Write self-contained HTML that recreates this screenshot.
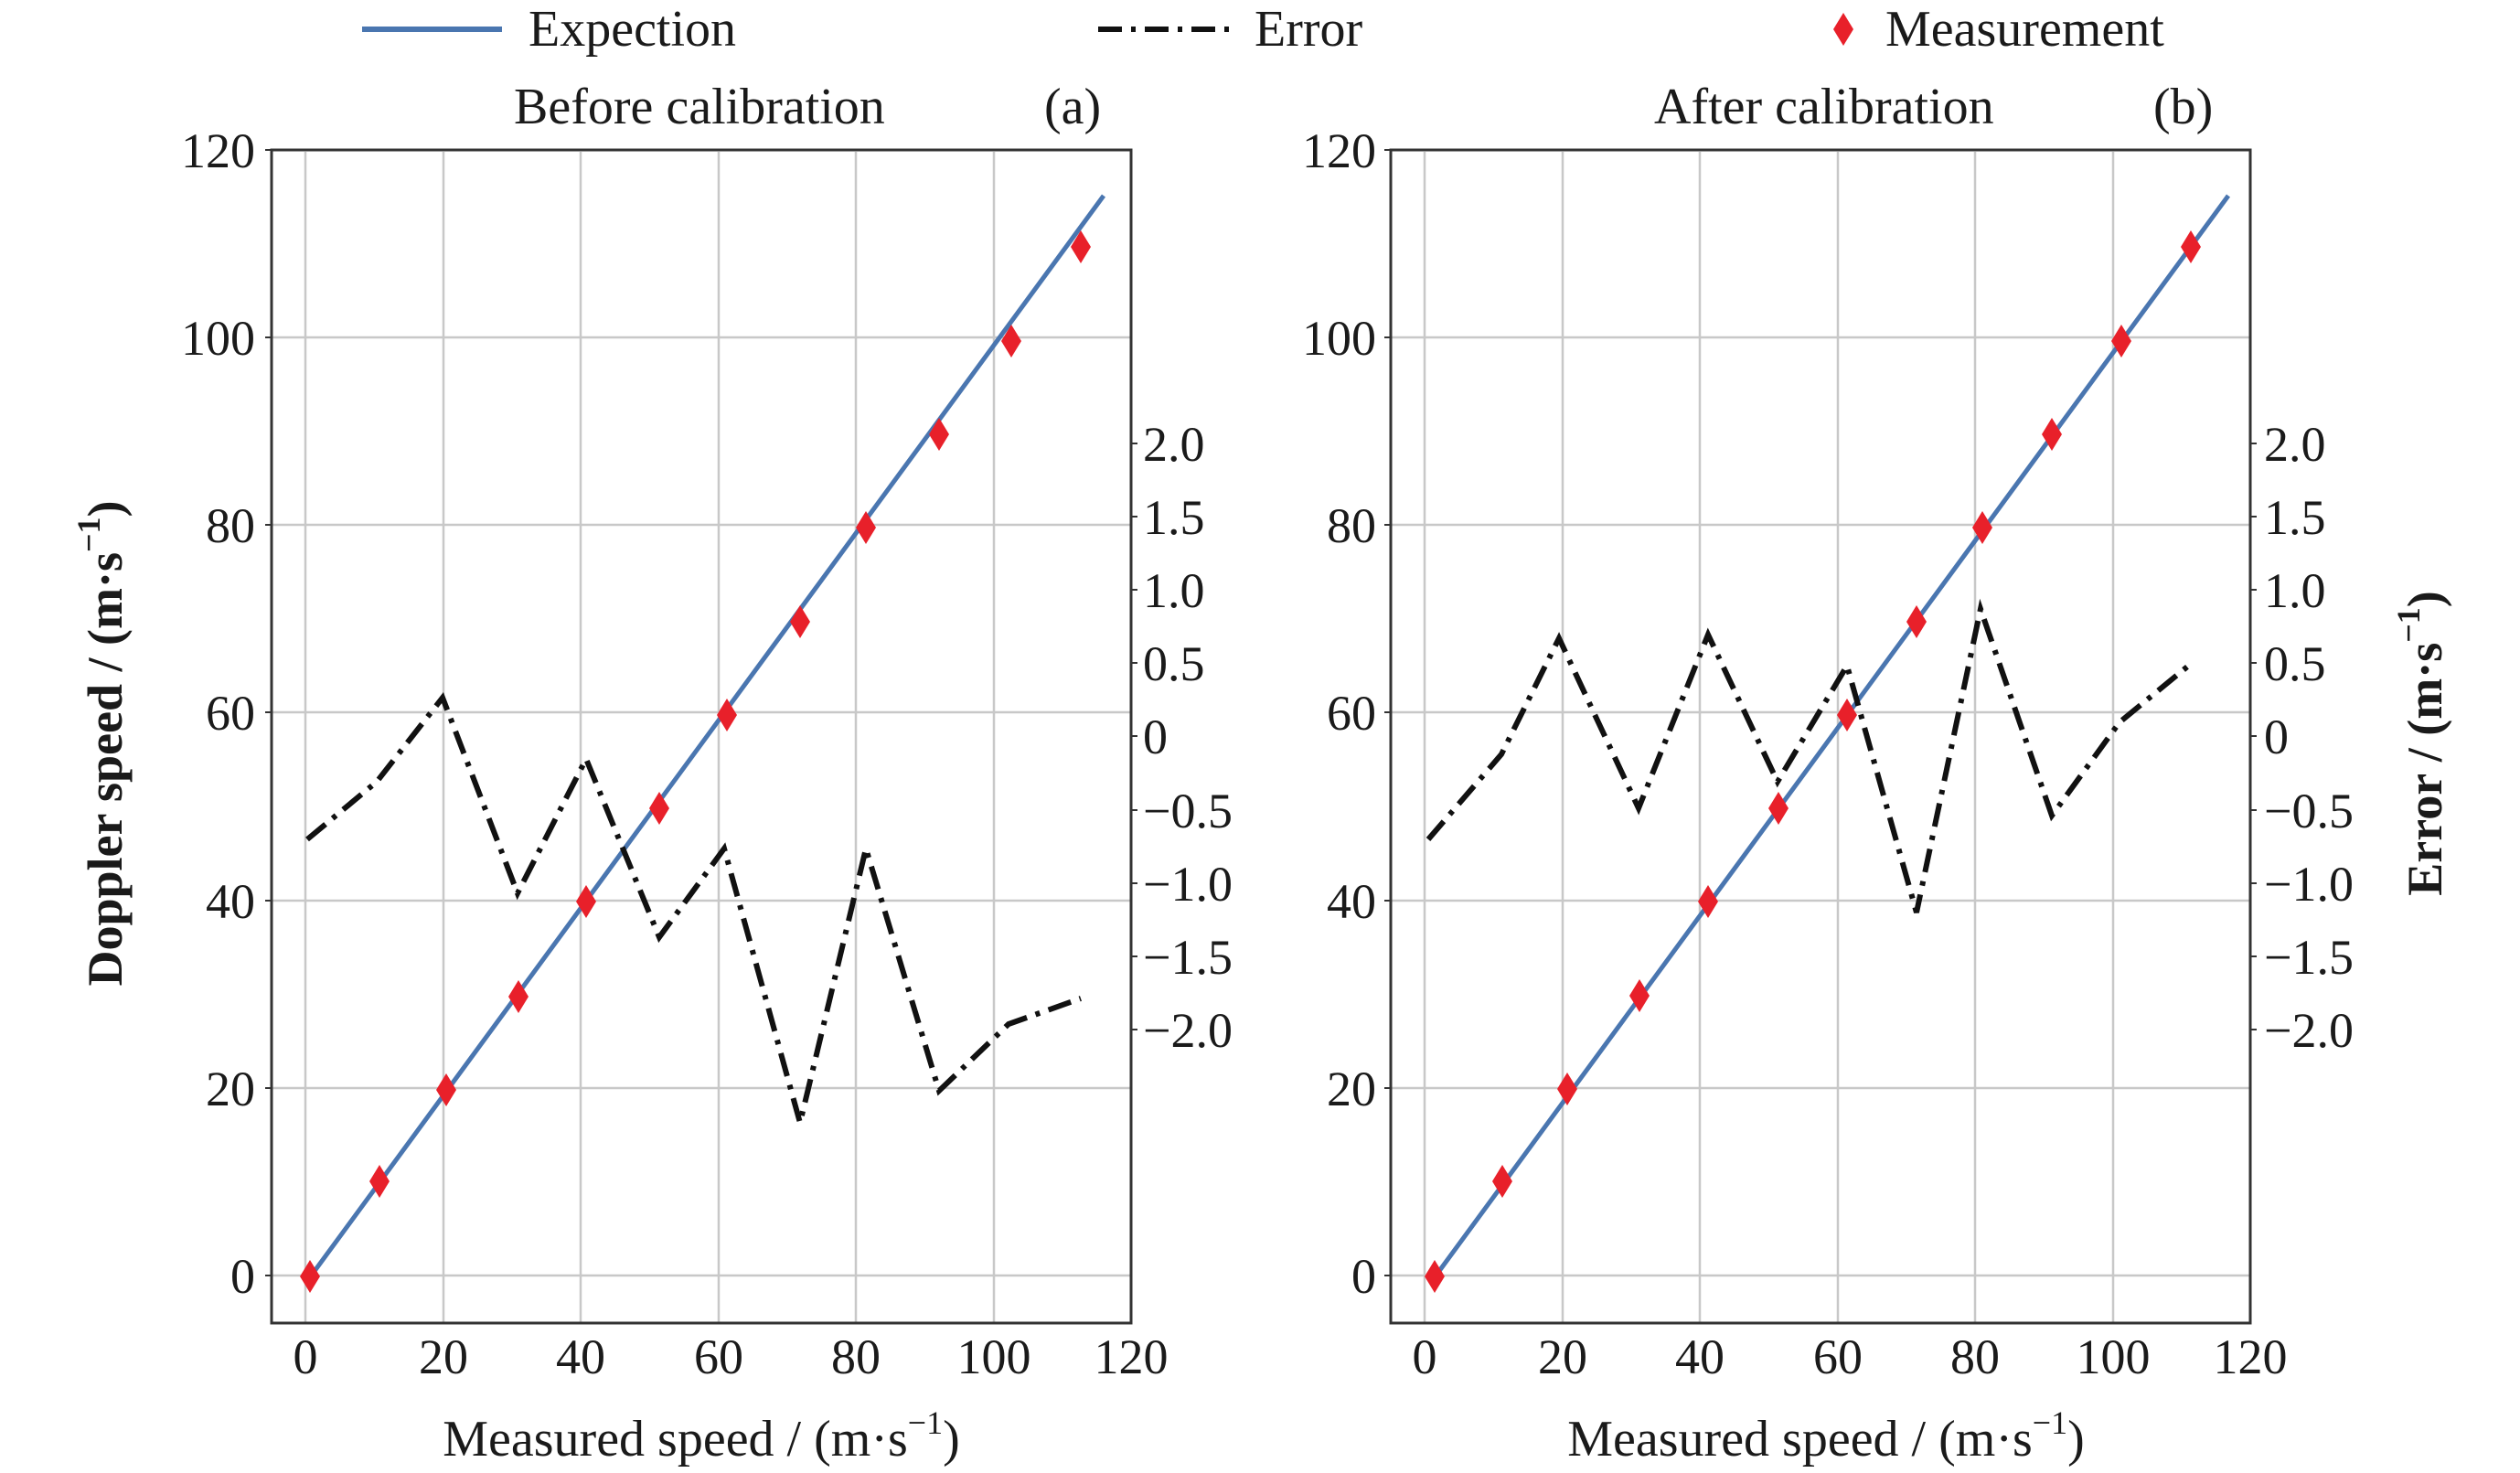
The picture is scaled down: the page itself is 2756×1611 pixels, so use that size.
<!DOCTYPE html>
<html><head><meta charset="utf-8"><style>
html,body{margin:0;padding:0;background:#fff}
svg{display:block}
text{font-family:"Liberation Serif",serif;fill:#1a1a1a}
</style></head><body>
<svg width="2756" height="1611" viewBox="0 0 2756 1611" xmlns="http://www.w3.org/2000/svg">
<defs>
<path id="dm" d="M0,-18 L11,0 L0,18 L-11,0 Z" fill="#e8202a"/>
</defs>
<!-- Legend -->
<line x1="396" y1="32" x2="549" y2="32" stroke="#4a76b0" stroke-width="6"/>
<text x="578" y="50" font-size="56">Expection</text>
<line x1="1201" y1="32" x2="1349" y2="32" stroke="#111" stroke-width="6" stroke-dasharray="26,10,5,10"/>
<text x="1372" y="50" font-size="56">Error</text>
<use href="#dm" x="2016" y="32"/>
<text x="2062" y="50" font-size="56">Measurement</text>

<!-- Panel A -->
<g>
<text x="562" y="135" font-size="56">Before calibration</text>
<text x="1142" y="135" font-size="56">(a)</text>
<g stroke="#c8c8c8" stroke-width="2.5">
<line x1="334" y1="166" x2="334" y2="1446"/><line x1="485" y1="166" x2="485" y2="1446"/>
<line x1="635" y1="166" x2="635" y2="1446"/><line x1="786" y1="166" x2="786" y2="1446"/>
<line x1="936" y1="166" x2="936" y2="1446"/><line x1="1087" y1="166" x2="1087" y2="1446"/>
<line x1="297" y1="1395" x2="1237" y2="1395"/><line x1="297" y1="1190" x2="1237" y2="1190"/>
<line x1="297" y1="985" x2="1237" y2="985"/><line x1="297" y1="779" x2="1237" y2="779"/>
<line x1="297" y1="574" x2="1237" y2="574"/><line x1="297" y1="369" x2="1237" y2="369"/>
</g>
<rect x="297" y="164" width="940" height="1283" fill="none" stroke="#333" stroke-width="3"/>
<g stroke="#333" stroke-width="2">
<line x1="290" y1="164" x2="297" y2="164"/><line x1="290" y1="369" x2="297" y2="369"/><line x1="290" y1="574" x2="297" y2="574"/><line x1="290" y1="779" x2="297" y2="779"/><line x1="290" y1="985" x2="297" y2="985"/><line x1="290" y1="1190" x2="297" y2="1190"/><line x1="290" y1="1395" x2="297" y2="1395"/>
<line x1="1237" y1="485" x2="1244" y2="485"/><line x1="1237" y1="565" x2="1244" y2="565"/><line x1="1237" y1="645" x2="1244" y2="645"/><line x1="1237" y1="725" x2="1244" y2="725"/><line x1="1237" y1="805" x2="1244" y2="805"/><line x1="1237" y1="886" x2="1244" y2="886"/><line x1="1237" y1="966" x2="1244" y2="966"/><line x1="1237" y1="1046" x2="1244" y2="1046"/><line x1="1237" y1="1126" x2="1244" y2="1126"/>
</g>
<g font-size="54" text-anchor="end">
<text x="279" y="183">120</text><text x="279" y="388">100</text><text x="279" y="593">80</text><text x="279" y="798">60</text><text x="279" y="1004">40</text><text x="279" y="1209">20</text><text x="279" y="1414">0</text>
</g>
<g font-size="54">
<text x="1250" y="504">2.0</text><text x="1250" y="584">1.5</text><text x="1250" y="664">1.0</text><text x="1250" y="744">0.5</text><text x="1250" y="824">0</text>
<text x="1250" y="905">−0.5</text><text x="1250" y="985">−1.0</text><text x="1250" y="1065">−1.5</text><text x="1250" y="1145">−2.0</text>
</g>
<g font-size="54" text-anchor="middle">
<text x="334" y="1502">0</text><text x="485" y="1502">20</text><text x="635" y="1502">40</text><text x="786" y="1502">60</text><text x="936" y="1502">80</text><text x="1087" y="1502">100</text><text x="1237" y="1502">120</text>
</g>
<text x="767" y="1592" font-size="56" text-anchor="middle">Measured speed / (m·s<tspan font-size="36" dy="-24">−1</tspan><tspan dy="24">)</tspan></text>
<text transform="translate(133,813) rotate(-90)" font-size="54" font-weight="bold" text-anchor="middle">Doppler speed / (m·s<tspan font-size="36" dy="-24">−1</tspan><tspan dy="24">)</tspan></text>
<line x1="336" y1="1401" x2="1207" y2="214" stroke="#4a76b0" stroke-width="5"/>
<polyline fill="none" stroke="#111" stroke-width="6" stroke-dasharray="26,10,5,10" points="336,918 412,855 484,763 566,977 641,830 721,1025 792,928 875,1228 947,928 1027,1193 1103,1120 1182,1092"/>
<g>
<use href="#dm" x="339" y="1396"/><use href="#dm" x="415" y="1292"/><use href="#dm" x="488" y="1192"/><use href="#dm" x="567" y="1090"/><use href="#dm" x="641" y="986"/><use href="#dm" x="721" y="884"/><use href="#dm" x="795" y="782"/><use href="#dm" x="875" y="680"/><use href="#dm" x="947" y="577"/><use href="#dm" x="1027" y="475"/><use href="#dm" x="1106" y="373"/><use href="#dm" x="1182" y="270"/>
</g>
</g>

<!-- Panel B -->
<g>
<text x="1809" y="135" font-size="56">After calibration</text>
<text x="2355" y="135" font-size="56">(b)</text>
<g stroke="#c8c8c8" stroke-width="2.5">
<line x1="1558" y1="166" x2="1558" y2="1446"/><line x1="1709" y1="166" x2="1709" y2="1446"/>
<line x1="1859" y1="166" x2="1859" y2="1446"/><line x1="2010" y1="166" x2="2010" y2="1446"/>
<line x1="2160" y1="166" x2="2160" y2="1446"/><line x1="2311" y1="166" x2="2311" y2="1446"/>
<line x1="1521" y1="1395" x2="2461" y2="1395"/><line x1="1521" y1="1190" x2="2461" y2="1190"/>
<line x1="1521" y1="985" x2="2461" y2="985"/><line x1="1521" y1="779" x2="2461" y2="779"/>
<line x1="1521" y1="574" x2="2461" y2="574"/><line x1="1521" y1="369" x2="2461" y2="369"/>
</g>
<rect x="1521" y="164" width="940" height="1283" fill="none" stroke="#333" stroke-width="3"/>
<g stroke="#333" stroke-width="2">
<line x1="1514" y1="164" x2="1521" y2="164"/><line x1="1514" y1="369" x2="1521" y2="369"/><line x1="1514" y1="574" x2="1521" y2="574"/><line x1="1514" y1="779" x2="1521" y2="779"/><line x1="1514" y1="985" x2="1521" y2="985"/><line x1="1514" y1="1190" x2="1521" y2="1190"/><line x1="1514" y1="1395" x2="1521" y2="1395"/>
<line x1="2461" y1="485" x2="2468" y2="485"/><line x1="2461" y1="565" x2="2468" y2="565"/><line x1="2461" y1="645" x2="2468" y2="645"/><line x1="2461" y1="725" x2="2468" y2="725"/><line x1="2461" y1="805" x2="2468" y2="805"/><line x1="2461" y1="886" x2="2468" y2="886"/><line x1="2461" y1="966" x2="2468" y2="966"/><line x1="2461" y1="1046" x2="2468" y2="1046"/><line x1="2461" y1="1126" x2="2468" y2="1126"/>
</g>
<g font-size="54" text-anchor="end">
<text x="1505" y="183">120</text><text x="1505" y="388">100</text><text x="1505" y="593">80</text><text x="1505" y="798">60</text><text x="1505" y="1004">40</text><text x="1505" y="1209">20</text><text x="1505" y="1414">0</text>
</g>
<g font-size="54">
<text x="2476" y="504">2.0</text><text x="2476" y="584">1.5</text><text x="2476" y="664">1.0</text><text x="2476" y="744">0.5</text><text x="2476" y="824">0</text>
<text x="2476" y="905">−0.5</text><text x="2476" y="985">−1.0</text><text x="2476" y="1065">−1.5</text><text x="2476" y="1145">−2.0</text>
</g>
<g font-size="54" text-anchor="middle">
<text x="1558" y="1502">0</text><text x="1709" y="1502">20</text><text x="1859" y="1502">40</text><text x="2010" y="1502">60</text><text x="2160" y="1502">80</text><text x="2311" y="1502">100</text><text x="2461" y="1502">120</text>
</g>
<text x="1997" y="1592" font-size="56" text-anchor="middle">Measured speed / (m·s<tspan font-size="36" dy="-24">−1</tspan><tspan dy="24">)</tspan></text>
<text transform="translate(2670,813) rotate(-90)" font-size="54" font-weight="bold" text-anchor="middle">Error / (m·s<tspan font-size="36" dy="-24">−1</tspan><tspan dy="24">)</tspan></text>
<line x1="1566" y1="1401" x2="2437" y2="214" stroke="#4a76b0" stroke-width="5"/>
<polyline fill="none" stroke="#111" stroke-width="6" stroke-dasharray="26,10,5,10" points="1562,918 1642,825 1705,698 1792,884 1868,694 1944,855 2020,728 2096,998 2166,666 2244,892 2318,790 2396,726"/>
<g>
<use href="#dm" x="1569" y="1396"/><use href="#dm" x="1643" y="1292"/><use href="#dm" x="1714" y="1191"/><use href="#dm" x="1793" y="1089"/><use href="#dm" x="1868" y="986"/><use href="#dm" x="1945" y="884"/><use href="#dm" x="2020" y="782"/><use href="#dm" x="2096" y="680"/><use href="#dm" x="2168" y="577"/><use href="#dm" x="2244" y="475"/><use href="#dm" x="2320" y="373"/><use href="#dm" x="2396" y="270"/>
</g>
</g>
</svg>
</body></html>
